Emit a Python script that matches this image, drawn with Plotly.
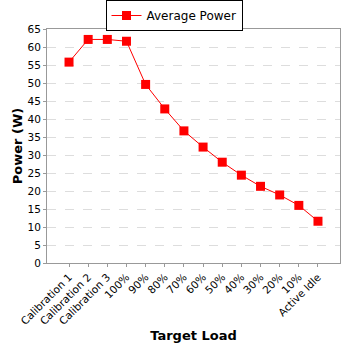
import plotly.graph_objects as go

categories = ["Calibration 1", "Calibration 2", "Calibration 3", "100%", "90%", "80%",
              "70%", "60%", "50%", "40%", "30%", "20%", "10%", "Active Idle"]
avg_power = [55.8, 62.1, 62.1, 61.6, 49.6, 42.8, 36.7, 32.2, 28.0, 24.4, 21.3, 18.9, 16.0, 11.6]

fig = go.Figure()
fig.add_trace(go.Scatter(
    x=list(range(len(categories))), y=avg_power, mode="lines+markers",
    name="Average Power",
    line=dict(color="#ff0000", width=1),
    marker=dict(symbol="square", size=9, color="#ff0000"),
))

fig.update_layout(
    width=348, height=348,
    margin=dict(l=47, r=8, t=29, b=85, autoexpand=False),
    paper_bgcolor="white", plot_bgcolor="white",
    font=dict(family="DejaVu Sans", size=11, color="#000"),
    showlegend=True,
    legend=dict(orientation="h", x=0.5, xanchor="center", y=1.0, yanchor="top",
                xref="container", yref="container",
                bordercolor="#000", borderwidth=1, font=dict(size=12),
                itemwidth=30, tracegroupgap=0),
    xaxis=dict(
        tickmode="array", tickvals=list(range(len(categories))), ticktext=categories,
        tickangle=-45, range=[-1.15, len(categories) - 1 + 1.15],
        showgrid=False, zeroline=False, automargin=False,
        showline=True, linecolor="#999", mirror=True,
        ticks="outside", ticklen=3, tickcolor="#999",
        tickfont=dict(size=10.5),
        title=dict(text="<b>Target Load</b>", font=dict(size=13), standoff=4),
    ),
    yaxis=dict(
        range=[0, 65], dtick=5, showgrid=True, gridcolor="#ddd", griddash="dash",
        zeroline=False, showline=True, linecolor="#999", mirror=True, automargin=False,
        ticks="outside", ticklen=3, tickcolor="#999",
        tickfont=dict(size=10.5),
        title=dict(text="<b>Power (W)</b>", font=dict(size=13), standoff=1),
    ),
)

fig.write_html("out.html")
